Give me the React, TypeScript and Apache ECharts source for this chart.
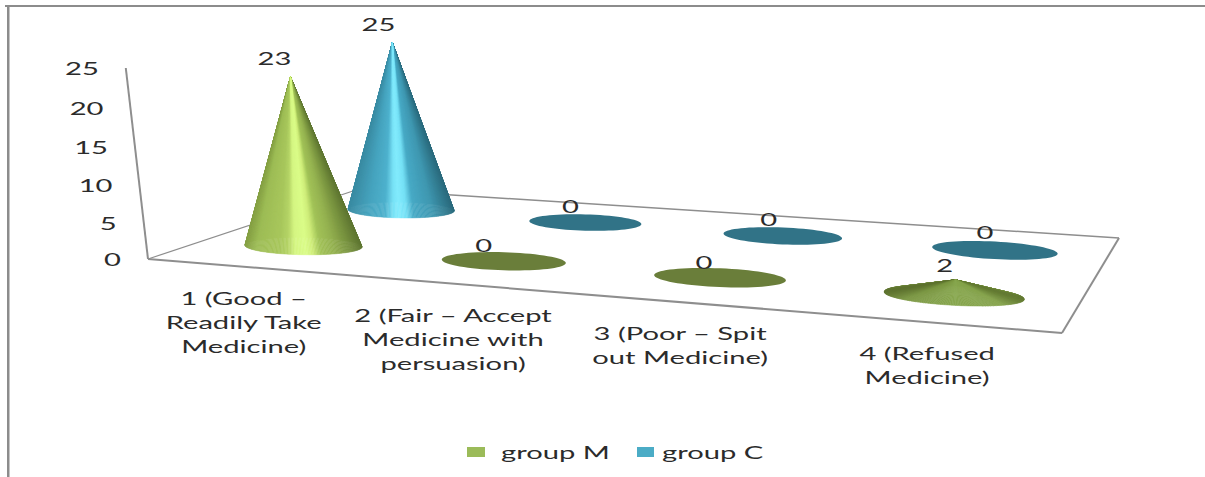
import React, { useEffect, useRef } from "react";
import * as echarts from "echarts";

// Chart content
const categories = [
  "1 (Good –\nReadily Take\nMedicine)",
  "2 (Fair – Accept\nMedicine with\npersuasion)",
  "3 (Poor – Spit\nout Medicine)",
  "4 (Refused\nMedicine)",
];
const groupM = [23, 0, 0, 2];
const groupC = [25, 0, 0, 0];
const yTicks = [0, 5, 10, 15, 20, 25];

// Floor of the 3D scene, as screen corners: front-left, front-right, back-right, back-left
const FLOOR = [[148, 259], [1062, 333], [1119, 238], [359, 189]];
const AXIS_HEIGHT = 191;
const VANISH: [number, number] = [612, 4250];

const TEXT = "#2b2b2b";
const FONT = "Lato";
const FONT_SIZE = 18;
const STRETCH = 1.62;

// Value label offsets from each cone's tip, one per category
const labelShiftM = [[-16, -19], [-20, -16], [-16, -16], [-11, -15]];
const labelShiftC = [[-14, -19], [-15, -17], [-14, -17], [-10, -18]];

type Stop = [number, string];
const tallM: Stop[] = [[0, "#86a146"], [0.1, "#9dbc55"], [0.3, "#a8c75c"], [0.37, "#b4d366"], [0.43, "#d4f582"], [0.52, "#dafc88"], [0.58, "#cfee7a"], [0.65, "#a2c358"], [0.77, "#93b04f"], [0.9, "#76903e"], [1, "#5f7632"]];
const tallC: Stop[] = [[0, "#3a8ba2"], [0.2, "#46a4bf"], [0.35, "#4eb1cd"], [0.43, "#78e2f6"], [0.48, "#82ebfd"], [0.55, "#74dff4"], [0.62, "#47a9c5"], [0.8, "#3f98b1"], [1, "#2b6b7d"]];
const lowM: Stop[] = [[0, "#5e7330"], [0.15, "#7a9642"], [0.5, "#87a64e"], [0.85, "#84a24b"], [1, "#647b34"]];
const lowC: Stop[] = [[0, "#2b6b7d"], [0.2, "#3a8ba2"], [0.5, "#4aa3bc"], [0.8, "#3f98b1"], [1, "#2b6b7d"]];
const flatM = "#6a7e3a";
const flatC = "#317387";

// Projective map of the unit floor square onto the screen quad
function makeFloorMap(q: number[][]) {
  const [[x0, y0], [x1, y1], [x2, y2], [x3, y3]] = q;
  const dx1 = x1 - x2, dx2 = x3 - x2, sx = x0 - x1 + x2 - x3;
  const dy1 = y1 - y2, dy2 = y3 - y2, sy = y0 - y1 + y2 - y3;
  const det = dx1 * dy2 - dx2 * dy1;
  const g = (sx * dy2 - dx2 * sy) / det;
  const h = (dx1 * sy - sx * dy1) / det;
  return (u: number, v: number) => {
    const w = 1 + g * u + h * v;
    return {
      w,
      x: ((x1 - x0 + g * x1) * u + (x3 - x0 + h * x3) * v + x0) / w,
      y: ((y1 - y0 + g * y1) * u + (y3 - y0 + h * y3) * v + y0) / w,
    };
  };
}
const floorAt = makeFloorMap(FLOOR);

// Height fraction along the vertical, with a slight foreshortening near the floor
const warpHeight = (t: number) => t * (1 - 0.06 * (1 - t));

function lift(x: number, y: number, w: number, t: number) {
  const hs = (AXIS_HEIGHT / w) * warpHeight(t);
  return [x + ((VANISH[0] - x) / (VANISH[1] - y)) * -hs, y - hs];
}

const hexRgb = (c: string) => [1, 3, 5].map((i) => parseInt(c.slice(i, i + 2), 16));
function sample(stops: Stop[], t: number) {
  for (let i = 1; i < stops.length; i++) {
    if (t <= stops[i][0]) {
      const k = (t - stops[i - 1][0]) / (stops[i][0] - stops[i - 1][0]);
      const a = hexRgb(stops[i - 1][1]);
      const b = hexRgb(stops[i][1]);
      return a.map((v, j) => v + (b[j] - v) * k);
    }
  }
  return hexRgb(stops[stops.length - 1][1]);
}
const css = (c: number[]) => `rgb(${c.map((v) => Math.round(v)).join(",")})`;

const label = (text: string, x: number, y: number, extra: object = {}) => ({
  type: "text",
  x,
  y,
  scaleX: STRETCH,
  silent: true,
  style: { text, fontFamily: FONT, fontSize: FONT_SIZE, fill: TEXT, align: "center", verticalAlign: "middle", ...extra },
});

// One cone standing on the floor, shaded as a fan of wedges around its base
function coneItem(depth: number, tall: Stop[], low: Stop[], flat: string, shifts: number[][]) {
  return (params: any, api: any) => {
    const sys = params.coordSys;
    const value = api.value(1);
    const top = api.coord([api.value(0), value]);
    const bottom = api.coord([api.value(0), 0]);
    const u = (top[0] - sys.x) / sys.width;
    const t = (bottom[1] - top[1]) / sys.height;
    const base = floorAt(u, depth);
    const rx = (59.8 + 5.4 * u) / base.w;
    const ry = 9 / base.w;
    const tilt = ((0.5 + 3 * u) * Math.PI) / 180;
    const rim = (a: number) => {
      const ex = rx * Math.cos(a);
      const ey = ry * Math.sin(a);
      return [base.x + ex * Math.cos(tilt) - ey * Math.sin(tilt), base.y + ex * Math.sin(tilt) + ey * Math.cos(tilt)];
    };
    const children: any[] = [];
    const apex = lift(base.x, base.y, base.w, t);
    if (value === 0) {
      const points = [];
      for (let i = 0; i < 72; i++) points.push(rim((i / 72) * 2 * Math.PI));
      children.push({ type: "polygon", shape: { points }, style: { fill: flat } });
    } else {
      // Squat cones catch no specular band and use the muted ramp
      const stops = value < 5 ? low : tall;
      const wedges = [];
      const n = 240;
      for (let i = 0; i < n; i++) wedges.push((i / n) * 2 * Math.PI);
      wedges.sort((a, b) => Math.sin(a + Math.PI / n) - Math.sin(b + Math.PI / n));
      for (const a of wedges) {
        const mid = a + Math.PI / n;
        const col = css(sample(stops, (1 + Math.cos(mid)) / 2));
        children.push({
          type: "polygon",
          shape: { points: [apex, rim(a), rim(a + (2 * Math.PI) / n)] },
          style: { fill: col, stroke: col, lineWidth: 0.5, lineJoin: "round" },
        });
      }
    }
    const shift = shifts[params.dataIndex];
    children.push(label(String(value), apex[0] + shift[0], apex[1] + shift[1]));
    return { type: "group", silent: true, children };
  };
}

// Floor outline, the slanted value axis and the tick and category labels
function frameItem(params: any, api: any) {
  const sys = params.coordSys;
  const line = (a: number[], b: number[], width: number) => ({
    type: "line",
    shape: { x1: a[0], y1: a[1], x2: b[0], y2: b[1] },
    style: { stroke: "#8e8e8e", lineWidth: width },
  });
  const [fl, fr, br, bl] = FLOOR;
  const children: any[] = [
    line(fl, bl, 1.2),
    line(bl, br, 1.5),
    line(fl, fr, 2),
    line(fr, br, 2),
  ];
  const axisTop = lift(fl[0], fl[1], 1, 1);
  children.push(line(fl, axisTop, 2));
  for (const tick of yTicks) {
    const t = (api.coord([0, 0])[1] - api.coord([0, tick])[1]) / sys.height;
    const p = lift(fl[0], fl[1], 1, t);
    children.push(label(String(tick), p[0] - 27, p[1], { align: "right" }));
  }
  categories.forEach((name, i) => {
    const u = (api.coord([i, 0])[0] - sys.x) / sys.width;
    const edge = floorAt(u, 0);
    children.push(label(name, edge.x - 3, edge.y + 19, { verticalAlign: "top", lineHeight: 24 }));
  });
  return { type: "group", silent: true, children };
}

const toPairs = (values: number[]) => values.map((v, i) => [i, v]);

export default function App() {
  const ref = useRef<HTMLDivElement>(null);
  useEffect(() => {
    const chart = echarts.init(ref.current!, undefined, { renderer: "svg" });
    const legendText = (text: string, x: number) => ({
      type: "text",
      x,
      y: 452,
      scaleX: STRETCH,
      style: { text, fontFamily: FONT, fontSize: FONT_SIZE, fill: TEXT, align: "left", verticalAlign: "middle" },
    });
    chart.setOption({
      animation: false,
      grid: { left: 0, right: 0, top: 0, bottom: 0 },
      xAxis: { type: "category", data: categories, show: false },
      yAxis: { type: "value", min: 0, max: 25, interval: 5, show: false },
      graphic: [
        { type: "rect", shape: { x: 5, y: 5, width: 1200, height: 2 }, style: { fill: "#8c8c8c" } },
        { type: "rect", shape: { x: 7, y: 5, width: 2.5, height: 472 }, style: { fill: "#8c8c8c" } },
        { type: "rect", shape: { x: 467, y: 447, width: 18, height: 10 }, style: { fill: "#9bbb59" } },
        legendText("group M", 501),
        { type: "rect", shape: { x: 637, y: 447, width: 17, height: 10 }, style: { fill: "#4bacc6" } },
        legendText("group C", 662),
      ],
      series: [
        { type: "custom", name: "frame", silent: true, clip: false, renderItem: frameItem, data: [[0, 0]], z: 1 },
        { type: "custom", name: "group C", silent: true, clip: false, renderItem: coneItem(0.75, tallC, lowC, flatC, labelShiftC), encode: { x: 0, y: 1 }, data: toPairs(groupC), z: 2 },
        { type: "custom", name: "group M", silent: true, clip: false, renderItem: coneItem(0.25, tallM, lowM, flatM, labelShiftM), encode: { x: 0, y: 1 }, data: toPairs(groupM), z: 3 },
      ],
    });
    return () => chart.dispose();
  }, []);
  return <div ref={ref} style={{ position: "absolute", left: 0, top: 0, width: 1205, height: 477, background: "#fff" }} />;
}
